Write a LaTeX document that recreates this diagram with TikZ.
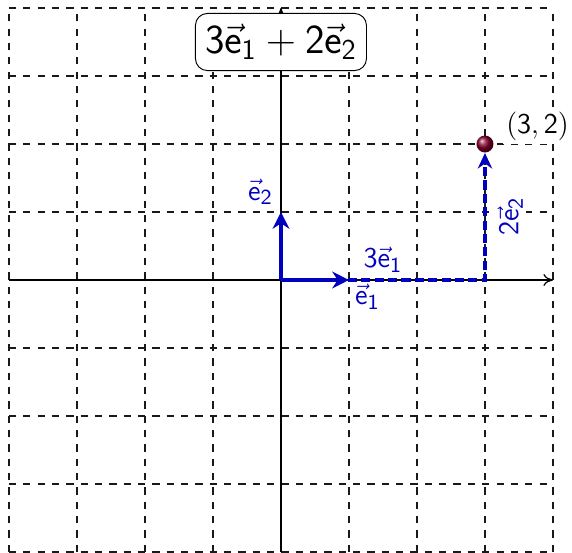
\documentclass[tikz,border=0pt]{standalone}
\usepackage{amsmath}
\usetikzlibrary{arrows.meta,positioning}

\newcommand{\sfvec}[2]{\vec{\mathsf{#1}}_{\mathsf{#2}}}

\begin{document}
\begin{tikzpicture}[
    font=\sffamily,
    gridline/.style={dashed, black!90, line width=0.5pt},
    axis/.style={-{To[length=4pt,width=5pt]}, line width=0.5pt},
    basisvec/.style={-{Stealth[length=7pt,width=7pt]}, line width=1.6pt, blue!75!black},
    pathvec/.style={-{Stealth[length=6.5pt,width=6pt]}, line width=1.6pt, blue!75!black,
                    dash pattern=on 3.8pt off 1.8pt},
    lbl/.style={text=blue!75!black, font=\fontsize{13}{15}\selectfont, inner sep=1.5pt},
    dot/.style={circle, ball color=purple!70!black, minimum size=0.25cm, inner sep=0pt},
    titlebox/.style={draw, rounded corners=5pt, fill=white, inner xsep=4pt, inner ysep=4.5pt,
                     font=\fontsize{18.5}{21}\selectfont},
  ]
    \useasboundingbox (-4.132,-4.014) rectangle (4.280,4.118);
    \draw[gridline] (-4,-4) grid (4,4);

    \coordinate (O) at (0,0);
    \coordinate (E1) at (1,0);
    \coordinate (E2) at (0,1);
    \coordinate (X) at (3,0);
    \coordinate (xl) at (-4,0); \coordinate (xr) at (4,0);
    \coordinate (yb) at (0,-4); \coordinate (yt) at (0,4);
    \draw[axis] (xl) -- (xr);
    \draw[axis] (yb) -- (yt);

    \node[dot] (P) at (3,2) {};
    \node[font=\large, fill=white, inner sep=1.5pt, above right=-0.1cm and 0.16cm of P] (Plab) {$\mathsf{(3,2)}$};

    \draw[pathvec] (O) -- node[lbl, fill=white, above=1pt] (lab3e1) {$\mathsf{3}\sfvec{e}{1}$} (X)
                       -- node[lbl, fill=white, below=3pt, sloped] (lab2e2) {$\mathsf{2}\sfvec{e}{2}$} (P);
    \draw[basisvec] (O) -- (E1);
    \draw[basisvec] (O) -- (E2);
    \node[lbl, below right=0.0cm and 0.03cm of E1] (labe1) {$\sfvec{e}{1}$};
    \node[lbl, above left=0.05cm and 0.06cm of E2] (labe2) {$\sfvec{e}{2}$};

    \node[titlebox] (title) at (0,3.5) {$\mathsf{3}\sfvec{e}{1} + \mathsf{2}\sfvec{e}{2}$};
  \end{tikzpicture}
\end{document}
